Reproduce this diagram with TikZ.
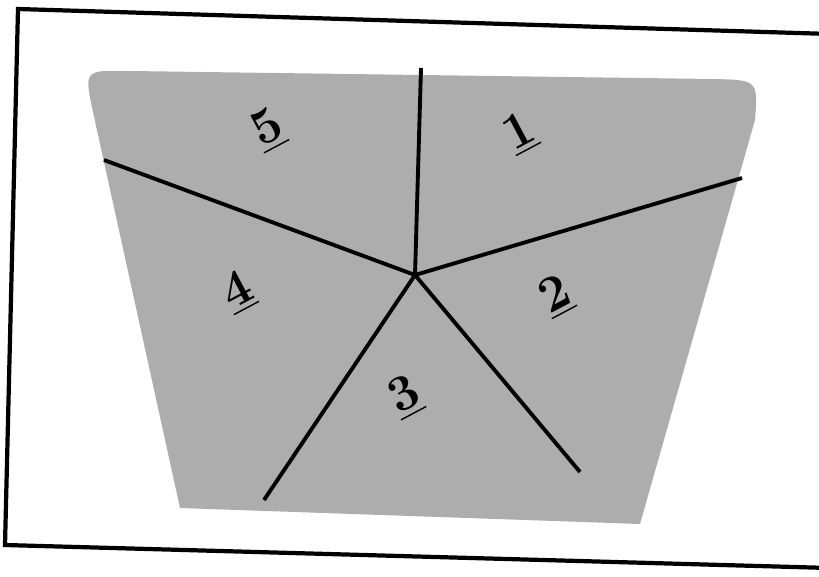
\documentclass[tikz,border=0pt]{standalone}
\usepackage{xcolor}
\usepackage{tikz}

\tikzset{
  sector/.style={draw=black, line width=1.1pt},
  zone/.style={font=\bfseries\Large, rotate=28},
}

\begin{document}
\begin{tikzpicture}[x=0.01cm, y=-0.01cm]
            \useasboundingbox (0,0) rectangle (819,576);
            % outer frame, slightly skewed like the scan
            \draw[line width=1.2pt] (830,34) -- (18,9) -- (5,545) -- (830,568);

            % shaded field
            \fill[gray!64] (180,508) -- (93,112) .. controls (84,70) .. (130,71)
                 -- (712,79) .. controls (758,80) .. (755,120) -- (640,524) -- cycle;

            \coordinate (c) at (415,275);
            \coordinate (e1) at (421,68);
            \coordinate (e2) at (742,178);
            \coordinate (e3) at (580,472);
            \coordinate (e4) at (264,500);
            \coordinate (e5) at (104,160);

            \draw[sector] (c) -- (e1);
            \draw[sector] (c) -- (e2);
            \draw[sector] (c) -- (e3);
            \draw[sector] (c) -- (e4);
            \draw[sector] (c) -- (e5);

            \node[zone] (n1) at (520,133) {\underline{1}};
            \node[zone] (n2) at (556,296) {\underline{2}};
            \node[zone] (n3) at (405,397) {\underline{3}};
            \node[zone] (n4) at (238,292) {\underline{4}};
            \node[zone] (n5) at (268,130) {\underline{5}};
         \end{tikzpicture}
\end{document}
